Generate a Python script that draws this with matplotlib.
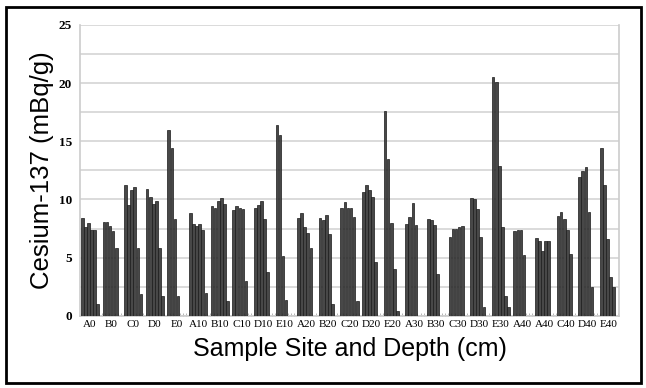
import matplotlib
matplotlib.use("Agg")
import matplotlib.pyplot as plt
from matplotlib.patches import Rectangle
from matplotlib.ticker import MultipleLocator
import numpy as np

# sample sites (depth groups) as they are labelled on the axis
sites = [
    "A0", "B0", "C0", "D0", "E0",
    "A10", "B10", "C10", "D10", "E10",
    "A20", "B20", "C20", "D20", "E20",
    "A30", "B30", "C30", "D30", "E30",
    "A40", "A40", "C40", "D40", "E40",
]

# up to six measurements per site (mBq/g)
values = [
    [8.4, 7.6, 8.0, 7.4, 7.4, 1.0],
    [8.1, 8.1, 7.7, 7.3, 5.8],
    [11.2, 9.5, 10.8, 11.1, 5.8, 1.9],
    [10.9, 10.2, 9.6, 9.9, 5.8, 1.7],
    [16.0, 14.4, 8.3, 1.7],
    [8.8, 7.9, 7.7, 7.9, 7.4, 2.0],
    [9.4, 9.3, 9.9, 10.1, 9.6, 1.3],
    [9.1, 9.4, 9.3, 9.2, 3.0],
    [9.3, 9.5, 9.9, 8.3, 3.8],
    [16.4, 15.5, 5.1, 1.4],
    [8.4, 8.8, 7.6, 7.1, 5.8],
    [8.4, 8.2, 8.7, 7.0, 1.0],
    [9.3, 9.8, 9.3, 9.3, 8.5, 1.3],
    [10.6, 11.2, 10.8, 10.2, 4.6],
    [17.6, 13.5, 8.0, 4.0, 0.4],
    [7.9, 8.5, 9.7, 7.8],
    [8.3, 8.2, 7.8, 3.6],
    [6.8, 7.5, 7.5, 7.6, 7.7],
    [10.1, 10.0, 9.2, 6.8, 0.8],
    [20.5, 20.1, 12.9, 7.6, 1.7, 0.8],
    [7.3, 7.4, 7.4, 5.2],
    [6.7, 6.4, 5.6, 6.4, 6.4],
    [8.6, 8.9, 8.3, 7.4, 5.3],
    [11.9, 12.4, 12.8, 8.9, 2.5],
    [14.4, 11.2, 6.6, 3.3, 2.5],
]

slots = 7  # six bars + one gap per site

xs, hs = [], []
for i, group in enumerate(values):
    for j, v in enumerate(group):
        xs.append(i * slots + j)
        hs.append(v)

fig = plt.figure(figsize=(6.46, 3.88), dpi=100)
ax = fig.add_axes([0.124, 0.186, 0.834, 0.75])

ax.bar(xs, hs, width=0.85, color="#484848", edgecolor="#1a1a1a",
       linewidth=0.5, zorder=3)

ax.set_ylim(0, 25)
ax.set_xlim(-0.7, (len(sites) - 1) * slots + 5.7)
ax.yaxis.set_major_locator(MultipleLocator(5))
ax.yaxis.set_minor_locator(MultipleLocator(2.5))
ax.grid(axis="y", which="both", color="#d4d4d4", linewidth=1.2, zorder=0)

ax.set_xticks([i * slots + 2.5 for i in range(len(sites))])
ax.set_xticklabels(sites, family="Liberation Serif", fontsize=8)
ax.set_xticks(np.arange(-0.5, len(sites) * slots - 1, 1), minor=True)
ax.tick_params(axis="x", which="major", length=0, pad=3)
ax.tick_params(axis="x", which="minor", length=2.5, direction="in",
               color="#999999", width=0.5)
ax.tick_params(axis="y", which="both", length=0, pad=6)
for lab in ax.get_yticklabels():
    lab.set_family("Liberation Serif")
    lab.set_fontweight("bold")
    lab.set_fontsize(9.5)

ax.spines["top"].set_visible(False)
for side in ["left", "right", "bottom"]:
    ax.spines[side].set_color("#cccccc")
    ax.spines[side].set_linewidth(1.2)

ax.set_ylabel("Cesium-137 (mBq/g)", family="Liberation Sans", fontsize=18.5,
              labelpad=3)
ax.set_xlabel("Sample Site and Depth (cm)", family="Liberation Sans",
              fontsize=18, labelpad=6)

fig.patches.append(Rectangle((0.009, 0.012), 0.983, 0.97,
                             transform=fig.transFigure, fill=False,
                             edgecolor="black", linewidth=2))

fig.savefig("out.png", dpi=100)
